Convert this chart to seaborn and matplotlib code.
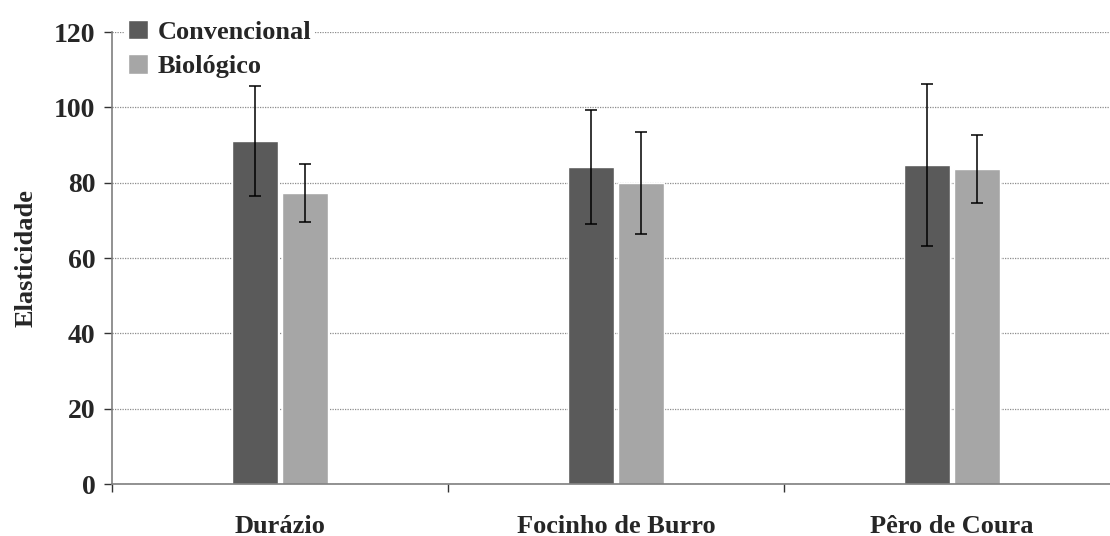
import pandas as pd
import matplotlib
matplotlib.use('Agg')
import matplotlib.pyplot as plt
import seaborn as sns

# data
cultivares = ['Durázio', 'Focinho de Burro', 'Pêro de Coura']
tratamentos = ['Convencional', 'Biológico']
convencional = [91.1, 84.2, 84.7]
biologico = [77.3, 80.0, 83.6]
err_convencional = [14.7, 15.2, 21.6]
err_biologico = [7.7, 13.5, 9.1]

df = pd.DataFrame({
    'cultivar': cultivares * 2,
    'tratamento': [tratamentos[0]] * 3 + [tratamentos[1]] * 3,
    'elasticidade': convencional + biologico,
})

sns.set_style('white')
plt.rcParams['font.family'] = ['Liberation Serif', 'DejaVu Serif']
plt.rcParams['font.weight'] = 'bold'

fig = plt.figure(figsize=(11.1, 5.36), dpi=100)
ax = fig.add_axes([0.101, 0.097, 0.908, 0.843])

sns.barplot(data=df, x='cultivar', y='elasticidade', hue='tratamento',
            order=cultivares, hue_order=tratamentos,
            palette=['#5a5a5a', '#a6a6a6'], width=0.3, gap=0.08,
            saturation=1, errorbar=None, ax=ax, zorder=2)

# error bars on top of each bar
for cont, errs in zip(ax.containers, [err_convencional, err_biologico]):
    xs = [p.get_x() + p.get_width() / 2 for p in cont.patches]
    ys = [p.get_height() for p in cont.patches]
    ax.errorbar(xs, ys, yerr=errs, fmt='none', ecolor='black',
                elinewidth=1.1, capsize=4, capthick=1.1, zorder=3)

ax.set_ylim(0, 120)
ax.set_yticks(range(0, 121, 20))
ax.set_xlim(-0.5, 2.5)
ax.yaxis.grid(True, color='#8c8c8c', linestyle=(0, (1, 1)), linewidth=0.9)
ax.set_axisbelow(True)

for s in ['top', 'right']:
    ax.spines[s].set_visible(False)
for s in ['left', 'bottom']:
    ax.spines[s].set_color('#7f7f7f')
    ax.spines[s].set_linewidth(1.2)

ax.tick_params(axis='y', direction='out', length=6, width=1, color='#333333',
               labelsize=20, pad=6, left=True)
ax.tick_params(axis='x', which='major', length=0, labelsize=19, pad=22)
ax.set_xticks([-0.5, 0.5, 1.5], minor=True)
ax.tick_params(axis='x', which='minor', direction='out', length=6,
               width=1, color='#333333', bottom=True)
for lab in ax.get_xticklabels() + ax.get_yticklabels():
    lab.set_fontweight('bold')

ax.set_xlabel('')
ax.set_ylabel('Elasticidade', fontsize=19, fontweight='bold', labelpad=12)

leg = ax.legend(loc='upper left', bbox_to_anchor=(-0.001, 1.065),
                frameon=True, fontsize=19, handlelength=0.75, handleheight=0.75,
                handletextpad=0.35, labelspacing=0.4, borderpad=0.15)
leg.get_frame().set_facecolor('white')
leg.get_frame().set_edgecolor('none')
leg.get_frame().set_alpha(1)
for t in leg.get_texts():
    t.set_fontweight('bold')

fig.savefig('out.png', dpi=100)
